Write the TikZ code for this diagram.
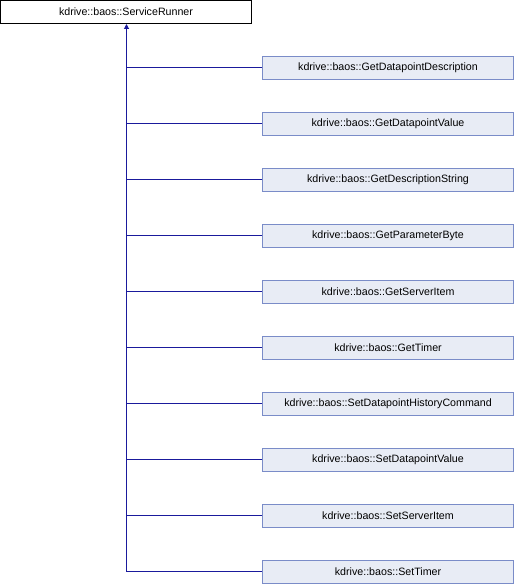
\documentclass[tikz,border=0pt]{standalone}
\usepackage{fontspec}
\setmainfont{Liberation Sans}
\usetikzlibrary{arrows.meta}
\definecolor{boxfill}{HTML}{E8ECF5}
\definecolor{boxline}{HTML}{7A8CC8}
\definecolor{edge}{HTML}{1A1A9C}
\begin{document}
\begin{tikzpicture}[x=0.75pt,y=-0.75pt,
  base/.style={draw=black,fill=white,line width=0.75pt,minimum width=251*0.75pt,minimum height=23*0.75pt,inner sep=0pt,font=\fontsize{8pt}{9.6pt}\selectfont},
  child/.style={draw=boxline,fill=boxfill,line width=0.75pt,minimum width=250.5*0.75pt,minimum height=23*0.75pt,inner sep=0pt,font=\fontsize{8pt}{9.6pt}\selectfont},
  link/.style={draw=edge,line width=0.75pt}]
\useasboundingbox (0,0) rectangle (514,584);
\node[base] (sr) at (126,12) {kdrive::baos::ServiceRunner};
\foreach \n/\t [count=\i from 0] in {
  c0/GetDatapointDescription,
  c1/GetDatapointValue,
  c2/GetDescriptionString,
  c3/GetParameterByte,
  c4/GetServerItem,
  c5/GetTimer,
  c6/SetDatapointHistoryCommand,
  c7/SetDatapointValue,
  c8/SetServerItem,
  c9/SetTimer}{
  \node[child] (\n) at (388,{67.7+56*\i}) {kdrive::baos::\t};
}
\coordinate (bend) at (126.5,571.7);
\draw[link,-{Triangle[length=5*0.75pt,width=5*0.75pt]}] (bend) -- (sr.south -| bend);
\foreach \i in {0,...,8}{
  \draw[link] (c\i.west) -- (c\i.west -| bend);
}
\draw[link] (c9.west) -- (bend);
\end{tikzpicture}
\end{document}
